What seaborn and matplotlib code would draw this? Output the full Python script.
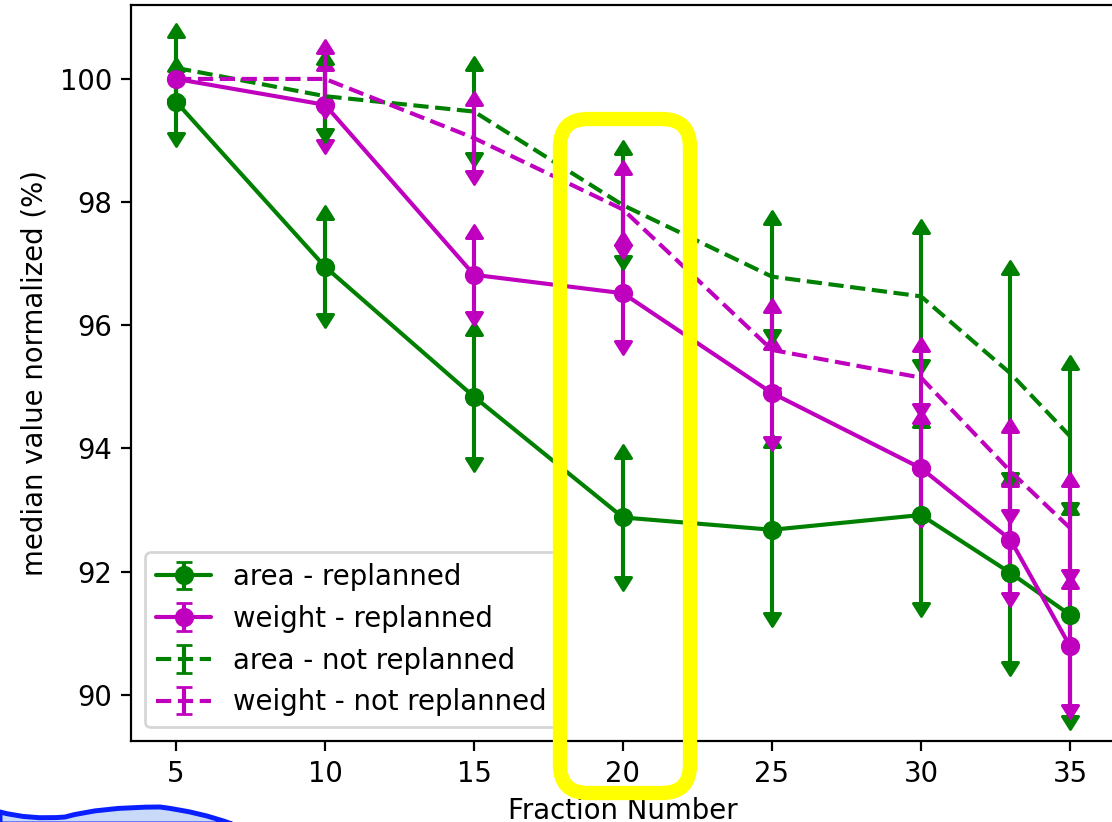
import numpy as np
import pandas as pd
import seaborn as sns
import matplotlib.pyplot as plt
from matplotlib.path import Path
from matplotlib.markers import MarkerStyle
from matplotlib.patches import FancyBboxPatch, PathPatch
from matplotlib.transforms import IdentityTransform

# values
fractions = [5, 10, 15, 20, 25, 30, 33, 35]

area_replanned = [99.63, 96.95, 94.84, 92.88, 92.68, 92.92, 91.98, 91.30]
area_replanned_err = [0.50, 0.77, 1.00, 0.96, 1.35, 1.43, 1.44, 1.64]

weight_replanned = [100.0, 99.58, 96.82, 96.52, 94.90, 93.68, 92.52, 90.79]
weight_replanned_err = [0.0, 0.57, 0.60, 0.78, 0.71, 0.74, 0.87, 0.95]

area_not_replanned = [100.18, 99.72, 99.47, 97.95, 96.79, 96.47, 95.22, 94.20]
area_not_replanned_err = [0.50, 0.53, 0.68, 0.83, 0.86, 1.03, 1.62, 1.09]

weight_not_replanned = [100.0, 100.0, 99.04, 97.88, 95.60, 95.15, 93.63, 92.71]
weight_not_replanned_err = [0.0, 0.42, 0.54, 0.57, 0.62, 0.43, 0.63, 0.68]

x_ticks = [5, 10, 15, 20, 25, 30, 35]
y_ticks = [90, 92, 94, 96, 98, 100]

series = [
    ('area - replanned', area_replanned, area_replanned_err, 'g', '-', 'o'),
    ('weight - replanned', weight_replanned, weight_replanned_err, 'm', '-', 'o'),
    ('area - not replanned', area_not_replanned, area_not_replanned_err, 'g', '--', None),
    ('weight - not replanned', weight_not_replanned, weight_not_replanned_err, 'm', '--', None),
]

sns.set_style('ticks', {
    'axes.edgecolor': 'black', 'axes.labelcolor': 'black', 'text.color': 'black',
    'xtick.color': 'black', 'ytick.color': 'black',
    'xtick.major.size': 3.5, 'ytick.major.size': 3.5,
})
plt.rcParams['font.family'] = ['DejaVu Sans']
plt.rcParams['font.size'] = 10
plt.rcParams['axes.linewidth'] = 0.8
plt.rcParams['xtick.major.width'] = 0.8
plt.rcParams['ytick.major.width'] = 0.8

DPI = 198
fig = plt.figure(figsize=(1112 / DPI, 822 / DPI), dpi=DPI)
ax = fig.add_axes([0.1181, 0.0985, 0.8843, 0.8954])

# filled arrow heads, base sitting on the end of the error bar
arrow_up = MarkerStyle(Path([(-0.5, 0), (0.5, 0), (0, 0.8), (-0.5, 0)],
                            [Path.MOVETO, Path.LINETO, Path.LINETO, Path.CLOSEPOLY]))
arrow_down = MarkerStyle(Path([(-0.5, 0), (0.5, 0), (0, -0.8), (-0.5, 0)],
                              [Path.MOVETO, Path.LINETO, Path.LINETO, Path.CLOSEPOLY]))

for name, vals, errs, color, ls, marker in series:
    vals = np.array(vals)
    errs = np.array(errs)
    ax.errorbar(fractions, vals, yerr=errs, color=color, ls=ls, marker=marker,
                ms=6, lw=1.5, capsize=3, label=name)
    has = errs > 0
    tips = pd.DataFrame({'fraction': np.array(fractions)[has],
                         'hi': (vals + errs)[has], 'lo': (vals - errs)[has]})
    sns.scatterplot(data=tips, x='fraction', y='hi', marker=arrow_up, s=90,
                    color=color, edgecolor=color, linewidth=1, ax=ax, zorder=2)
    sns.scatterplot(data=tips, x='fraction', y='lo', marker=arrow_down, s=90,
                    color=color, edgecolor=color, linewidth=1, ax=ax, zorder=2)

ax.set_xlim(3.5, 36.5)
ax.set_ylim(89.25, 101.2)
ax.set_xticks(x_ticks)
ax.set_yticks(y_ticks)
ax.set_xlabel('Fraction Number', labelpad=3)
ax.set_ylabel('median value normalized (%)')
ax.legend(loc='lower left')

# yellow highlight around fraction 20 (screen annotation)
box = FancyBboxPatch((560, 29), 130, 674, boxstyle='round,pad=0,rounding_size=28',
                     transform=IdentityTransform(), lw=5.2, ec='#ffff00', fc='none',
                     zorder=10)
fig.add_artist(box)

# bit of a blue shape peeking in at the bottom left
blob = Path([(0, 10), (30, 2), (65, 5), (100, 15), (160, 15), (200, 10), (232, -2), (0, -2), (0, 10)],
            [Path.MOVETO, Path.CURVE3, Path.CURVE3, Path.CURVE3, Path.CURVE3, Path.CURVE3, Path.CURVE3,
             Path.LINETO, Path.CLOSEPOLY])
fig.add_artist(PathPatch(blob, transform=IdentityTransform(), fc='#c9daf8', ec='#0a1fff',
                         lw=1.8, zorder=10))

fig.savefig('out.png', dpi=DPI)
